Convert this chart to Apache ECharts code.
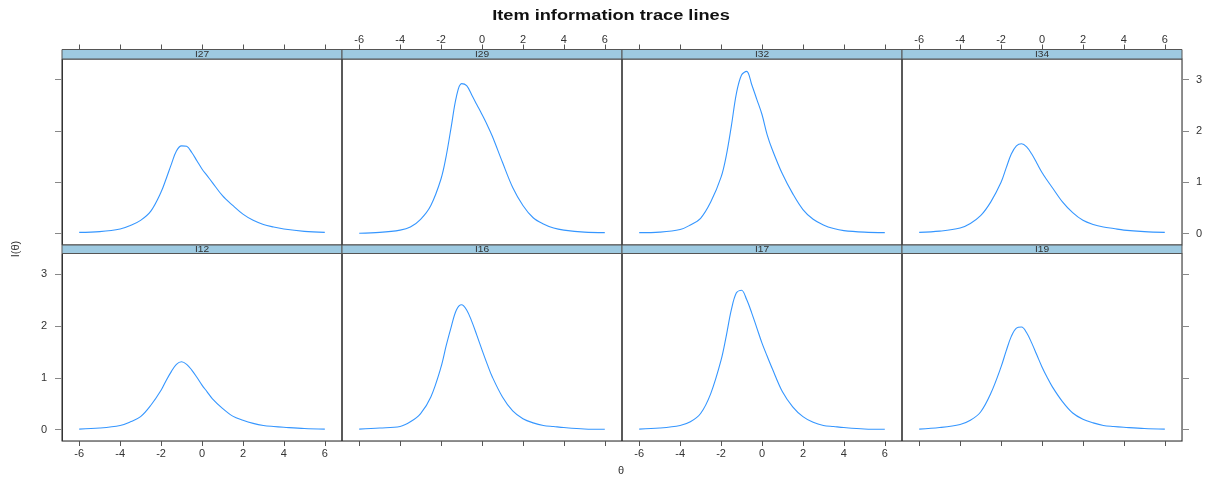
<!DOCTYPE html>
<html><head><meta charset="utf-8">
<script src="https://cdn.jsdelivr.net/npm/echarts@6/dist/echarts.min.js"></script>
<style>html,body{margin:0;padding:0;background:#fff}#c{width:1207px;height:477px}</style>
</head><body><div id="c"></div><script>
// theta grid shared by all items
const theta = [-6,-5,-4,-3.5,-3,-2.5,-2,-1.75,-1.5,-1.25,-1,-0.75,-0.5,-0.25,0,0.25,0.5,1,1.5,2,2.5,3,3.5,4,5,6];
// item information values
const I27 = [0.025,0.04,0.09,0.16,0.26,0.44,0.81,1.07,1.35,1.61,1.71,1.70,1.58,1.42,1.26,1.13,1.00,0.74,0.55,0.38,0.26,0.18,0.13,0.09,0.045,0.025];
const I29 = [0.01,0.025,0.07,0.13,0.28,0.55,1.07,1.51,2.09,2.67,2.92,2.88,2.70,2.51,2.32,2.12,1.90,1.39,0.90,0.55,0.31,0.19,0.11,0.07,0.03,0.02];
const I32 = [0.02,0.03,0.08,0.17,0.30,0.62,1.10,1.51,2.09,2.73,3.09,3.16,2.90,2.61,2.32,1.93,1.64,1.16,0.78,0.47,0.28,0.17,0.10,0.06,0.03,0.02];
const I34 = [0.025,0.05,0.11,0.20,0.35,0.62,1.00,1.28,1.55,1.71,1.75,1.69,1.55,1.37,1.19,1.04,0.90,0.62,0.41,0.26,0.18,0.13,0.10,0.07,0.04,0.025];
const I12 = [0.01,0.03,0.08,0.15,0.25,0.47,0.76,0.95,1.12,1.26,1.31,1.26,1.15,1.01,0.86,0.73,0.60,0.41,0.26,0.18,0.12,0.08,0.06,0.045,0.02,0.01];
const I16 = [0.01,0.03,0.06,0.15,0.31,0.63,1.21,1.62,1.99,2.31,2.41,2.31,2.09,1.82,1.54,1.27,1.02,0.63,0.36,0.21,0.13,0.08,0.06,0.04,0.013,0.006];
const I17 = [0.01,0.03,0.08,0.15,0.31,0.70,1.34,1.80,2.31,2.64,2.69,2.51,2.25,1.96,1.67,1.42,1.18,0.73,0.44,0.25,0.14,0.08,0.06,0.04,0.013,0.006];
const I19 = [0.01,0.04,0.10,0.18,0.34,0.70,1.21,1.52,1.80,1.96,1.98,1.87,1.67,1.44,1.21,1.01,0.83,0.54,0.32,0.20,0.13,0.08,0.06,0.045,0.02,0.01];

const itemNames = ['I27','I29','I32','I34','I12','I16','I17','I19'];
const itemValues = [I27,I29,I32,I34,I12,I16,I17,I19];
const xTicks = [-6,-4,-2,0,2,4,6];
const yTicks = [0,1,2,3];
const titleText = 'Item information trace lines';
const yLabel = 'I(\u03B8)';
const xLabel = '\u03B8';

const FONT = '"Liberation Sans", Arial, sans-serif';
const PL = 62, PW = 280;
const rows = [
  {top: 59, h: 186, stripTop: 49.5, stripH: 9.5},
  {top: 253.5, h: 187.5, stripTop: 245, stripH: 8.5}
];
const XMIN = -6.84, XMAX = 6.84, YMIN = -0.22, YMAX = 3.40;
const LINE = '#3596ff';

const grids = [], xAxes = [], yAxes = [], series = [], graphics = [];
itemNames.forEach((name, i) => {
  const r = Math.floor(i / 4), c = i % 4;
  const row = rows[r];
  grids.push({left: PL + PW * c, top: row.top, width: PW, height: row.h,
    show: true, borderColor: '#222', borderWidth: 1, containLabel: false});
  const topRow = r === 0;
  const showXLab = topRow ? (c === 1 || c === 3) : (c === 0 || c === 2);
  xAxes.push({type: 'value', gridIndex: i, min: XMIN, max: XMAX,
    position: topRow ? 'top' : 'bottom', offset: topRow ? row.stripH : 0,
    splitLine: {show: false},
    axisLine: {show: !topRow, onZero: false, lineStyle: {color: '#888'}},
    axisTick: {show: true, inside: false, length: 5, customValues: xTicks, lineStyle: {color: '#555'}},
    axisLabel: {show: showXLab, customValues: xTicks, margin: topRow ? 4 : 7,
      color: '#333', fontSize: 11, fontFamily: FONT}
  });
  const outer = c === 0 || c === 3;
  const showYLab = (c === 0 && r === 1) || (c === 3 && r === 0);
  yAxes.push({type: 'value', gridIndex: i, min: YMIN, max: YMAX, show: outer,
    position: c === 3 ? 'right' : 'left',
    splitLine: {show: false},
    axisLine: {show: true, onZero: false, lineStyle: {color: c === 3 ? '#888' : '#333'}},
    axisTick: {show: true, inside: false, length: 7, customValues: yTicks, lineStyle: {color: '#888'}},
    axisLabel: {show: showYLab, customValues: yTicks, margin: c === 3 ? 14 : 15,
      color: '#333', fontSize: 11, fontFamily: FONT}
  });
  series.push({type: 'line', name: name, xAxisIndex: i, yAxisIndex: i,
    data: theta.map((t, k) => [t, itemValues[i][k]]),
    smooth: 0.35, showSymbol: false, lineStyle: {color: LINE, width: 1.1}, silent: true});
  graphics.push({type: 'rect', shape: {x: PL + PW * c, y: row.stripTop, width: PW, height: row.stripH},
    style: {fill: '#9ecae1', stroke: '#555', lineWidth: 1}, z: 10});
  graphics.push({type: 'text', x: PL + PW * c + PW / 2, y: row.stripTop + row.stripH / 2 + 0.5, scaleX: 1.2,
    style: {text: name, fill: '#333', font: '8.5px ' + FONT, textAlign: 'center', textVerticalAlign: 'middle'}, z: 11});
});
graphics.push({type: 'text', x: 611, y: 16, scaleX: 1.3,
  style: {text: titleText, fill: '#111', font: 'bold 14px ' + FONT, textAlign: 'center', textVerticalAlign: 'middle'}});
graphics.push({type: 'text', x: 16, y: 249, rotation: Math.PI / 2,
  style: {text: yLabel, fill: '#333', font: '11px ' + FONT, textAlign: 'center', textVerticalAlign: 'middle'}});
graphics.push({type: 'text', x: 621, y: 471,
  style: {text: xLabel, fill: '#333', font: '11px ' + FONT, textAlign: 'center', textVerticalAlign: 'middle'}});

const chart = echarts.init(document.getElementById('c'), null, {renderer: 'canvas'});
chart.setOption({animation: false, backgroundColor: '#fff',
  grid: grids, xAxis: xAxes, yAxis: yAxes, series: series, graphic: graphics});
</script></body></html>
